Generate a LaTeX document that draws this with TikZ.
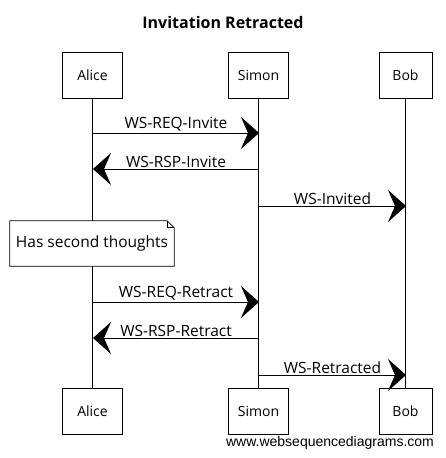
\documentclass[tikz,border=0pt]{standalone}
\usepackage{fontspec}
\setmainfont{Open Sans}
\newfontfamily\wsdfont{Liberation Sans}
\usetikzlibrary{arrows.meta, positioning}

\tikzset{
  actor/.style={draw, line width=0.8pt, fill=white, minimum width=60pt, minimum height=46pt, font=\fontsize{14}{16}\selectfont},
  lifeline/.style={line width=0.8pt},
  msg/.style={line width=0.8pt, -{Stealth[length=18pt, width=32pt, inset=7pt]}},
  msglabel/.style={above, inner sep=1pt, font=\fontsize{15.5}{17}\selectfont},
  note/.style={fill=white, minimum width=164pt, minimum height=45pt, inner sep=2pt, font=\fontsize{15.5}{17}\selectfont}
}

\begin{document}
\begin{tikzpicture}[x=1pt, y=-1pt]
  %tikz  Invitation Retracted, sequence
    \useasboundingbox (0,0) rectangle (445,458);

    \node[font=\bfseries\fontsize{16}{18}\selectfont] (title) at (223,22) {Invitation Retracted};

    \node[actor] (aliceTop) at (92.5,75) {Alice};
    \node[actor] (simonTop) at (258.5,75) {Simon};
    \node[actor, minimum width=53pt] (bobTop) at (405.5,75) {Bob};

    \node[actor] (aliceBot) at (92.5,411) {Alice};
    \node[actor] (simonBot) at (258.5,411) {Simon};
    \node[actor, minimum width=53pt] (bobBot) at (405.5,411) {Bob};

    \draw[lifeline] (aliceTop) -- (aliceBot);
    \draw[lifeline] (simonTop) -- (simonBot);
    \draw[lifeline] (bobTop) -- (bobBot);

    \coordinate (A1) at (93,133);   \coordinate (S1) at (259,133);
    \coordinate (A2) at (93,169);   \coordinate (S2) at (259,169);
    \coordinate (S3) at (259,206);  \coordinate (B3) at (406,206);
    \coordinate (A4) at (93,302);   \coordinate (S4) at (259,302);
    \coordinate (A5) at (93,338);   \coordinate (S5) at (259,338);
    \coordinate (S6) at (259,375);  \coordinate (B6) at (406,375);

    \draw[msg] (A1) -- node[msglabel] {WS-REQ-Invite} (S1);
    \draw[msg] (S2) -- node[msglabel] {WS-RSP-Invite} (A2);
    \draw[msg] (S3) -- node[msglabel] {WS-Invited} (B3);

    % note on Alice
    \node[note] (thoughts) at (92,243.5) {Has second thoughts};
    \draw[lifeline] (thoughts.north west) -- ([xshift=-7pt]thoughts.north east)
      -- ([yshift=-7pt]thoughts.north east) -- (thoughts.south east)
      -- (thoughts.south west) -- cycle;
    \draw[lifeline] ([xshift=-7pt]thoughts.north east) -- ([xshift=-7pt, yshift=-7pt]thoughts.north east)
      -- ([yshift=-7pt]thoughts.north east);

    \draw[msg] (A4) -- node[msglabel] {WS-REQ-Retract} (S4);
    \draw[msg] (S5) -- node[msglabel] {WS-RSP-Retract} (A5);
    \draw[msg] (S6) -- node[msglabel] {WS-Retracted} (B6);

    \node[font=\wsdfont\fontsize{14}{16}\selectfont] (footer) at (330,443) {www.websequencediagrams.com};
  \end{tikzpicture}
\end{document}
